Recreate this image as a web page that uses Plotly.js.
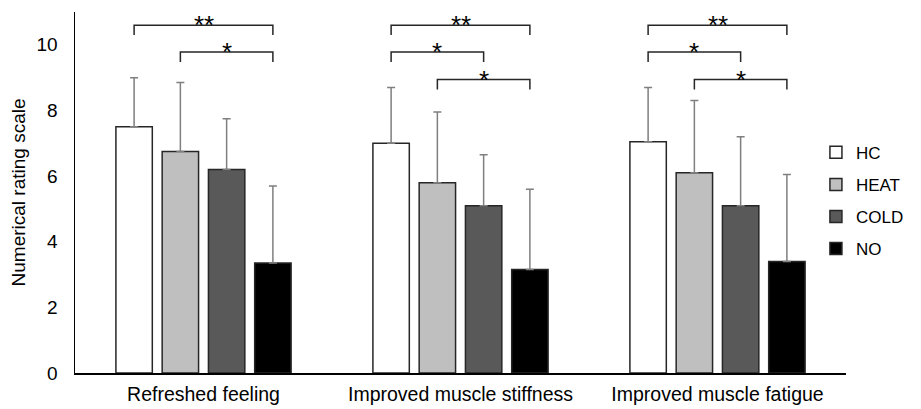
<!DOCTYPE html>
<html>
<head>
<meta charset="utf-8">
<script src="https://cdn.plot.ly/plotly-3.0.1.min.js"></script>
<style>html,body{margin:0;padding:0;background:#fff}#chart{width:921px;height:409px}</style>
</head>
<body>
<div id="chart"></div>
<script>
const categories = ["Refreshed feeling", "Improved muscle stiffness", "Improved muscle fatigue"];
const seriesNames = ["HC", "HEAT", "COLD", "NO"];
const hcValues   = [7.5, 7.0, 7.05];
const heatValues = [6.75, 5.8, 6.1];
const coldValues = [6.2, 5.1, 5.1];
const noValues   = [3.35, 3.15, 3.4];
const hcSD   = [1.5, 1.7, 1.65];
const heatSD = [2.1, 2.15, 2.2];
const coldSD = [1.55, 1.55, 2.1];
const noSD   = [2.35, 2.45, 2.65];
// significance comparisons: [category index, from series index, to series index, label]
const comparisons = [
  [0, 0, 3, "**"], [0, 1, 3, "*"],
  [1, 0, 3, "**"], [1, 0, 2, "*"], [1, 1, 3, "*"],
  [2, 0, 3, "**"], [2, 0, 2, "*"], [2, 1, 3, "*"]
];

const values = [hcValues, heatValues, coldValues, noValues];
const sds = [hcSD, heatSD, coldSD, noSD];
const fills = ["#ffffff", "#bfbfbf", "#595959", "#000000"];

const traces = seriesNames.map((name, i) => ({
  type: "bar",
  name: name,
  x: categories,
  y: values[i],
  legendgroup: name,
  marker: {color: fills[i], line: {color: "#262626", width: 1.5}},
  error_y: {type: "data", symmetric: false, array: sds[i], arrayminus: sds[i].map(() => 0),
            color: "#7f7f7f", thickness: 1.5, width: 4}
}));

const bargap = 0.28, groupgap = 0.213;
const slot = (1 - bargap) / seriesNames.length;
const offsetOf = s => -(1 - bargap) / 2 + slot * (s + 0.5);

// bracket levels (rows from top)
const levelY = [10.6, 9.78, 8.94];
const tick = 0.3;
const shapes = [], annotations = [];
const levelCount = {};
comparisons.forEach(c => {
  const [cat, a, b, label] = c;
  const k = levelCount[cat] || 0; levelCount[cat] = k + 1;
  const y = levelY[k];
  const x0 = cat + offsetOf(a), x1 = cat + offsetOf(b);
  shapes.push({type: "path", xref: "x", yref: "y",
    path: `M ${x0} ${y - tick} L ${x0} ${y} L ${x1} ${y} L ${x1} ${y - tick}`,
    line: {color: "#262626", width: 1.5}});
  annotations.push({xref: "x", yref: "y", x: (x0 + x1) / 2, y: y, text: label, showarrow: false,
    yanchor: "bottom", yshift: -17, font: {size: 26, color: "#000", family: "Liberation Sans, Arial"}});
});

const layout = {
  width: 921, height: 409,
  margin: {l: 75, r: 63, t: 12, b: 36},
  paper_bgcolor: "#fff", plot_bgcolor: "#fff",
  font: {family: "Liberation Sans, Arial, sans-serif", size: 19, color: "#000"},
  barmode: "group", bargap: bargap, bargroupgap: groupgap,
  showlegend: true,
  legend: {x: 0.961, y: 0.66, xanchor: "left", yanchor: "top", traceorder: "grouped",
           tracegroupgap: 7, font: {size: 17, color: "#000"}, itemwidth: 30, bgcolor: "rgba(0,0,0,0)"},
  xaxis: {type: "category", showline: true, linecolor: "#000", linewidth: 1.5, ticks: "",
          tickfont: {size: 19.5}, showgrid: false, zeroline: false, range: [-0.5, 2.5],
          ticklabelstandoff: 3},
  yaxis: {range: [0, 11], showline: true, linecolor: "#000", linewidth: 1.5, ticks: "",
          tickvals: [0, 2, 4, 6, 8, 10], tickfont: {size: 19}, showgrid: false, zeroline: false,
          ticklabelstandoff: 12,
          title: {text: "Numerical rating scale", font: {size: 19}, standoff: 6}},
  shapes: shapes, annotations: annotations
};

Plotly.newPlot("chart", traces, layout, {displayModeBar: false, staticPlot: true});
</script>
</body>
</html>
